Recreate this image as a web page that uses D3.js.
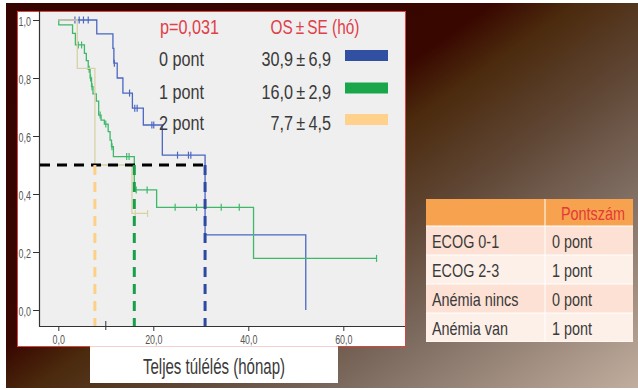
<!DOCTYPE html>
<html>
<head>
<meta charset="utf-8">
<script src="https://cdn.jsdelivr.net/npm/d3@7"></script>
<style>
  html, body { margin: 0; padding: 0; background: #fff; }
  svg { display: block; }
  text { font-family: "Liberation Sans", Arial, sans-serif; }
</style>
</head>
<body>
<svg id="chart" width="638" height="390"></svg>
<script>
// ---- Kaplan–Meier data (time in months, survival after each event) ----
const groupLabels = ["0 pont", "1 pont", "2 pont"];
const medianOS = [30.9, 16.0, 7.7];
const medianSE = [6.9, 2.9, 4.5];
const pValue = "0,031";

const steps0 = [[8.1, 0.952], [11.5, 0.902], [11.7, 0.851], [12.4, 0.80], [13.6, 0.748],
                [15.6, 0.696], [17.9, 0.638], [21.9, 0.534], [30.9, 0.259], [52.1, 0.0]];
const censor0 = [3.5, 4.4, 5.3, 6.3, 11.8, 15.0, 16.1, 16.6, 19.7, 20.1, 25.1, 27.4, 27.9];
const end0 = 52.1;

const steps1 = [[0.1, 0.983], [3.0, 0.954], [3.6, 0.914], [5.5, 0.885], [5.9, 0.86], [6.3, 0.83],
                [6.7, 0.80], [7.0, 0.77], [7.3, 0.745], [8.0, 0.72], [8.5, 0.672], [9.0, 0.655],
                [9.7, 0.641], [10.5, 0.615], [10.9, 0.586], [11.2, 0.563], [11.6, 0.529],
                [16.0, 0.414], [20.7, 0.354], [41.1, 0.178]];
const censor1 = [4.2, 4.9, 6.5, 6.8, 7.1, 8.8, 10.0, 11.3, 14.4, 14.9, 16.4, 18.7,
                 24.6, 29.1, 34.3, 38.1, 67.0];
const end1 = 67.0;

const steps2 = [[4.0, 0.833], [7.7, 0.5], [15.5, 0.333]];
const censor2 = [16.2, 18.8];
const end2 = 18.8;

const xTicks = [0, 20, 40, 60];
const yTicks = [0, 0.2, 0.4, 0.6, 0.8, 1.0];

// Scoring table
const tableHeader = ["", "Pontszám"];
const tableFactors = ["ECOG 0-1", "ECOG 2-3", "Anémia nincs", "Anémia van"];
const tablePoints = ["0 pont", "1 pont", "0 pont", "1 pont"];

// ---- styling ----
const curveColors = ["#4a67c4", "#3fb86a", "#d8d1a4"];
const medianColors = ["#2c4aa2", "#17a04a", "#ffcf86"];
const swatchColors = ["#3150a2", "#1aa64b", "#ffd18c"];
const red = "#e0404a";
const ink = "#3a3a3a";

const svg = d3.select("#chart");
const W = 638, H = 390;
const comma = d3.formatLocale({ decimal: ",", thousands: " ", grouping: [3], currency: ["", ""] });
const fmt1 = comma.format(".1f");

// condensed-looking text: regular face squeezed horizontally
function label(parent, x, y, str, size, sx, opts = {}) {
  return parent.append("text")
    .attr("transform", `translate(${x},${y}) scale(${sx},1)`)
    .attr("text-anchor", opts.anchor || "start")
    .attr("fill", opts.fill || ink)
    .style("font-size", size + "px")
    .text(str);
}

// background
const defs = svg.append("defs");
const grad = defs.append("linearGradient").attr("id", "bg")
  .attr("gradientUnits", "userSpaceOnUse")
  .attr("x1", 0).attr("y1", 0).attr("x2", 404).attr("y2", 571);
[[0, "#350300"], [0.41, "#380700"], [0.48, "#4b2a0d"], [0.6, "#5f4634"], [0.74, "#7e6c61"], [1, "#c6b3a3"]]
  .forEach(([o, c]) => grad.append("stop").attr("offset", o).attr("stop-color", c));
svg.append("rect").attr("width", W).attr("height", H).attr("fill", "url(#bg)");
svg.append("rect").attr("x", 0).attr("y", 0).attr("width", W).attr("height", 3).attr("fill", "#fff");
svg.append("rect").attr("x", 0).attr("y", 0).attr("width", 6).attr("height", H).attr("fill", "#fff");
svg.append("rect").attr("x", 0).attr("y", 388).attr("width", W).attr("height", 2).attr("fill", "#fff");

// chart panel
const panel = { x: 17, y: 11, w: 389, h: 336 };
const plot = { left: 39, right: 405, top: 12, bottom: 326 };
svg.append("rect").attr("x", panel.x + 0.5).attr("y", panel.y + 0.5)
  .attr("width", panel.w - 1).attr("height", panel.h - 1)
  .attr("fill", "#fff").attr("stroke", "#d8453f").attr("stroke-width", 1);
svg.append("rect").attr("x", plot.left).attr("y", plot.top)
  .attr("width", plot.right - plot.left).attr("height", plot.bottom - plot.top)
  .attr("fill", "#efefef");

const x = d3.scaleLinear().domain([0, 60]).range([58.3, 343.3]);
const y = d3.scaleLinear().domain([0, 1]).range([310, 20]);

// axes (ticks from d3, labels squeezed like the rest of the text)
const yAxis = svg.append("g").attr("transform", `translate(${plot.left},0)`)
  .call(d3.axisLeft(y).tickValues(yTicks).tickFormat(fmt1).tickSize(6));
const xAxis = svg.append("g").attr("transform", `translate(0,${plot.bottom})`)
  .call(d3.axisBottom(x).tickValues(xTicks).tickFormat(fmt1).tickSize(5));
[yAxis, xAxis].forEach(g => {
  g.select(".domain").remove();
  g.selectAll(".tick line").attr("stroke", "#333");
  g.selectAll(".tick text").remove();
});
yAxis.selectAll(".tick").each(function (d) {
  label(d3.select(this), -8, 5, fmt1(d), 13.5, 0.66, { anchor: "end", fill: "#555" });
});
xAxis.selectAll(".tick").each(function (d) {
  label(d3.select(this), 0, 17.5, fmt1(d), 13.5, 0.66, { anchor: "middle", fill: "#555" });
});
svg.append("line").attr("x1", plot.left + 0.5).attr("x2", plot.left + 0.5)
  .attr("y1", plot.top - 1).attr("y2", plot.bottom + 0.5).attr("stroke", "#333").attr("stroke-width", 1.2);
svg.append("line").attr("x1", plot.left).attr("x2", plot.right)
  .attr("y1", plot.bottom + 0.5).attr("y2", plot.bottom + 0.5).attr("stroke", "#333").attr("stroke-width", 1.2);
svg.append("line").attr("x1", x(10)).attr("x2", x(10))
  .attr("y1", plot.bottom - 5).attr("y2", plot.bottom + 4).attr("stroke", "#333");

// survival curves
function stepPoints(steps, end) {
  const pts = [[0, 1]];
  let s = 1;
  steps.forEach(([t, v]) => { pts.push([t, s]); pts.push([t, v]); s = v; });
  const last = pts[pts.length - 1];
  if (end > last[0]) pts.push([end, s]);
  return pts;
}
function survAt(steps, t) {
  let s = 1;
  steps.forEach(([st, v]) => { if (st <= t) s = v; });
  return s;
}
const line = d3.line().x(d => x(d[0])).y(d => y(d[1]));
const curves = [
  { steps: steps0, censor: censor0, end: end0 },
  { steps: steps1, censor: censor1, end: end1 },
  { steps: steps2, censor: censor2, end: end2 }
];
curves.forEach((c, i) => {
  const g = svg.append("g");
  g.append("path").attr("d", line(stepPoints(c.steps, c.end)))
    .attr("fill", "none").attr("stroke", curveColors[i]).attr("stroke-width", 1.3);
  g.selectAll("line").data(c.censor).join("line")
    .attr("x1", d => x(d)).attr("x2", d => x(d))
    .attr("y1", d => y(survAt(c.steps, d)) - 3.5).attr("y2", d => y(survAt(c.steps, d)) + 3.5)
    .attr("stroke", curveColors[i]).attr("stroke-width", 1.2);
});

// median survival guides
const dash = "10,7";
svg.append("line").attr("x1", plot.left + 1).attr("x2", x(medianOS[0]))
  .attr("y1", y(0.5)).attr("y2", y(0.5))
  .attr("stroke", "#000").attr("stroke-width", 3).attr("stroke-dasharray", dash);
medianOS.forEach((m, i) => {
  svg.append("line").attr("x1", x(m)).attr("x2", x(m))
    .attr("y1", y(0.5)).attr("y2", plot.bottom)
    .attr("stroke", medianColors[i]).attr("stroke-width", 3).attr("stroke-dasharray", dash);
});

// legend
label(svg, 160, 33.5, "p=" + pValue, 20.5, 0.79, { fill: red });
label(svg, 315, 33.5, "OS\u2009±\u2009SE (hó)", 20.5, 0.75, { fill: red, anchor: "middle" });
const rowY = [66, 98.5, 130];
groupLabels.forEach((lab, i) => {
  label(svg, 159, rowY[i], lab, 20.5, 0.79);
  label(svg, 331, rowY[i], fmt1(medianOS[i]) + "\u2009±\u2009" + fmt1(medianSE[i]), 20.5, 0.79, { anchor: "end" });
  svg.append("rect").attr("x", 345).attr("y", rowY[i] - 16).attr("width", 43).attr("height", 11)
    .attr("fill", swatchColors[i]);
});

// x-axis title box
svg.append("rect").attr("x", 90).attr("y", 347).attr("width", 248).attr("height", 36).attr("fill", "#fff");
svg.append("line").attr("x1", 90).attr("x2", 338).attr("y1", 346.5).attr("y2", 346.5)
  .attr("stroke", "#f6d0d0").attr("stroke-width", 1);
label(svg, 214, 374, "Teljes túlélés (hónap)", 21.5, 0.7, { anchor: "middle" });

// scoring table
const tbl = { x: 426, y: 199, w: 207, headH: 27, rowH: 29, col: 545 };
const tg = svg.append("g");
tg.append("rect").attr("x", tbl.x).attr("y", tbl.y).attr("width", tbl.w)
  .attr("height", tbl.headH + tbl.rowH * tableFactors.length).attr("fill", "#fff");
tg.append("rect").attr("x", tbl.x).attr("y", tbl.y).attr("width", tbl.col - tbl.x - 0.5)
  .attr("height", tbl.headH - 0.5).attr("fill", "#f6a24e");
tg.append("rect").attr("x", tbl.col + 0.5).attr("y", tbl.y).attr("width", tbl.x + tbl.w - tbl.col - 0.5)
  .attr("height", tbl.headH - 0.5).attr("fill", "#f6a24e");
label(tg, 593, tbl.y + 20.5, tableHeader[1], 18, 0.8, { anchor: "middle", fill: "#e53a38" });
tableFactors.forEach((f, i) => {
  const ry = tbl.y + tbl.headH + i * tbl.rowH;
  const fill = i % 2 === 0 ? "#fce1d4" : "#fdf0e9";
  tg.append("rect").attr("x", tbl.x).attr("y", ry + 0.5).attr("width", tbl.col - tbl.x - 0.5)
    .attr("height", tbl.rowH - 1).attr("fill", fill);
  tg.append("rect").attr("x", tbl.col + 0.5).attr("y", ry + 0.5).attr("width", tbl.x + tbl.w - tbl.col - 0.5)
    .attr("height", tbl.rowH - 1).attr("fill", fill);
  label(tg, tbl.x + 6, ry + 21.5, f, 18, 0.8);
  label(tg, tbl.col + 7, ry + 21.5, tablePoints[i], 18, 0.8);
});
</script>
</body>
</html>
